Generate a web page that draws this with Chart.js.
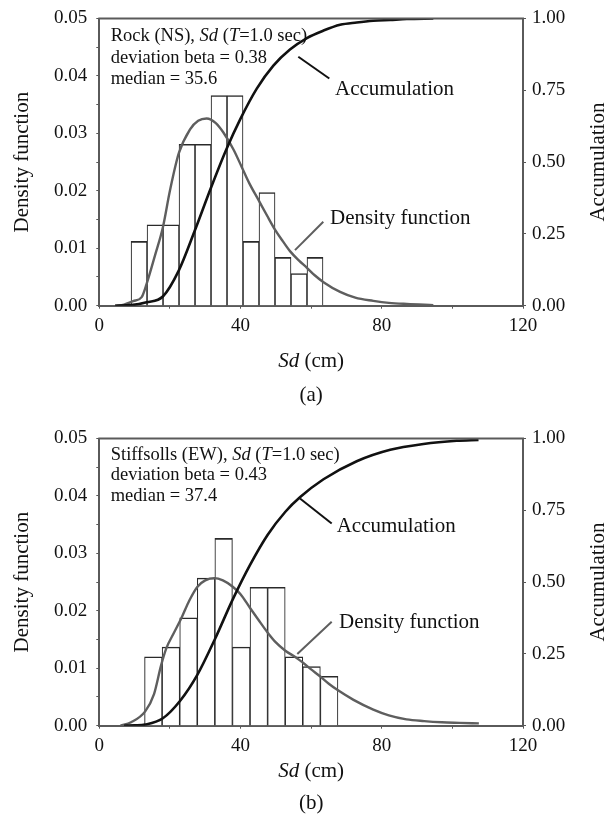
<!DOCTYPE html>
<html>
<head>
<meta charset="utf-8">
<script src="https://cdn.jsdelivr.net/npm/chart.js@4.4.1/dist/chart.umd.min.js"></script>
<style>
  html, body { margin: 0; padding: 0; background: #fff; }
  #wrap { position: relative; width: 614px; height: 821px; }
  canvas { position: absolute; left: 0; }
  #chartA { top: 0; }
  #chartB { top: 420px; }
</style>
</head>
<body>
<div id="wrap">
  <canvas id="chartA" width="614" height="420"></canvas>
  <canvas id="chartB" width="614" height="401"></canvas>
</div>
<script>
'use strict';

// axis ticks (shared by both panels)
var xTickValues = [0, 20, 40, 60, 80, 100, 120];
var xTickLabels = ['0', '', '40', '', '80', '', '120'];
var densityTickValues = [0, 0.005, 0.01, 0.015, 0.02, 0.025, 0.03, 0.035, 0.04, 0.045, 0.05];
var densityTickLabels = ['0.00', '', '0.01', '', '0.02', '', '0.03', '', '0.04', '', '0.05'];
var accumTickValues = [0, 0.25, 0.5, 0.75, 1];
var accumTickLabels = ['0.00', '0.25', '0.50', '0.75', '1.00'];

// (a) Rock (NS)
var rockBinCenters = [11.26, 15.79, 20.32, 24.85, 29.38, 33.91, 38.44, 42.97, 47.50, 52.03, 56.56, 61.09];
var rockBinDensity = [0.0112, 0.0141, 0.0141, 0.0281, 0.0281, 0.0366, 0.0366, 0.0112, 0.0197, 0.0084, 0.0056, 0.0084];
var rockDensityX = [4.5, 7.0, 9.6, 12.0, 13.4, 15.8, 18.0, 20.0, 22.5, 25.7, 28.0, 30.4, 33.0, 35.1, 38.0, 40.3, 42.5, 45.0, 47.5, 49.8, 52.0, 54.0, 56.5, 58.8, 61.0, 63.5, 68.2, 72.5, 77.6, 82.0, 87.1, 94.6];
var rockDensityY = [0, 0.0002, 0.0008, 0.0015, 0.0038, 0.0088, 0.0136, 0.0200, 0.0265, 0.0307, 0.0322, 0.0326, 0.0318, 0.0302, 0.0272, 0.0242, 0.0213, 0.0185, 0.0157, 0.0132, 0.0112, 0.0095, 0.0079, 0.0066, 0.0053, 0.0041, 0.0024, 0.0014, 0.00085, 0.0005, 0.0003, 0.0001];
var rockAccumX = [4.5, 9.0, 13.4, 18.0, 22.5, 27.0, 31.6, 36.0, 39.9, 44.6, 49.3, 54.0, 58.8, 63.5, 68.2, 72.9, 77.6, 82.4, 87.1, 94.6];
var rockAccumY = [0, 0.002, 0.012, 0.032, 0.122, 0.26, 0.41, 0.545, 0.649, 0.756, 0.836, 0.892, 0.932, 0.958, 0.978, 0.986, 0.992, 0.995, 0.998, 1.0];

// (b) Stiffsolls (EW)
var stiffBinCenters = [15.30, 20.28, 25.26, 30.24, 35.22, 40.20, 45.18, 50.16, 55.14, 60.12, 65.10];
var stiffBinDensity = [0.0120, 0.0137, 0.0188, 0.0257, 0.0326, 0.0137, 0.0241, 0.0241, 0.0120, 0.0103, 0.0086];
var stiffDensityX = [6, 9, 13, 15.5, 17.5, 19, 21, 23.3, 25.5, 27.8, 30, 32.6, 35, 37.8, 40, 42.7, 45, 47.7, 50, 52.6, 55.9, 57.6, 60, 62.5, 65, 67.5, 72, 77.6, 82, 87, 92, 97, 102, 107.5];
var stiffDensityY = [0, 0.0006, 0.0025, 0.0055, 0.0105, 0.0135, 0.016, 0.0188, 0.0218, 0.0242, 0.0253, 0.0257, 0.0253, 0.0242, 0.0229, 0.0205, 0.0185, 0.0162, 0.0145, 0.0131, 0.0118, 0.011, 0.0098, 0.0086, 0.0073, 0.0062, 0.0045, 0.0028, 0.0018, 0.0011, 0.0008, 0.0006, 0.0005, 0.0004];
var stiffAccumX = [7, 10, 13, 17.9, 22.9, 27.8, 32.8, 37.8, 42.7, 47.7, 52.7, 56.9, 63.5, 72.9, 82.4, 91.8, 101.2, 107.4];
var stiffAccumY = [0, 0.001, 0.004, 0.025, 0.087, 0.178, 0.303, 0.44, 0.56, 0.665, 0.745, 0.796, 0.858, 0.921, 0.961, 0.981, 0.992, 0.995];

// texts
var rockInset = [
    [{ t: 'Rock (NS), ' }, { t: 'Sd', i: 1 }, { t: ' (' }, { t: 'T', i: 1 }, { t: '=1.0 sec)' }],
    [{ t: 'deviation beta = 0.38' }],
    [{ t: 'median = 35.6' }]
];
var stiffInset = [
    [{ t: 'Stiffsolls (EW), ' }, { t: 'Sd', i: 1 }, { t: ' (' }, { t: 'T', i: 1 }, { t: '=1.0 sec)' }],
    [{ t: 'deviation beta = 0.43' }],
    [{ t: 'median = 37.4' }]
];
var xTitle = [{ t: 'Sd', i: 1 }, { t: ' (cm)' }];
var yTitle = 'Density function';
var y2Title = 'Accumulation';

var SERIF = '"Liberation Serif", "Times New Roman", serif';
var PLOT_TOP = 11.7;
var PLOT_BOTTOM = 305.7;
var PLOT_LEFT = 99.3;
var PLOT_RIGHT = 523;

function zip(xs, ys) {
    return xs.map(function(x, i) { return { x: x, y: ys[i] }; });
}

function richWidth(ctx, segs, size) {
    var w = 0;
    segs.forEach(function(s) {
        ctx.font = (s.i ? 'italic ' : '') + size + 'px ' + SERIF;
        w += ctx.measureText(s.t).width;
    });
    return w;
}

function drawRich(ctx, segs, x, y, size) {
    segs.forEach(function(s) {
        ctx.font = (s.i ? 'italic ' : '') + size + 'px ' + SERIF;
        ctx.fillText(s.t, x, y);
        x += ctx.measureText(s.t).width;
    });
}

var figureText = {
    id: 'figureText',
    afterDraw: function(chart, args, o) {
        var ctx = chart.ctx;
        var a = chart.chartArea;
        ctx.save();

        // top frame line
        ctx.strokeStyle = '#5a5a5a';
        ctx.lineWidth = 2;
        ctx.beginPath();
        ctx.moveTo(a.left - 1, a.top);
        ctx.lineTo(a.right + 1, a.top);
        ctx.stroke();

        // leader lines
        o.pointers.forEach(function(p) {
            ctx.strokeStyle = p.color;
            ctx.lineWidth = 2;
            ctx.beginPath();
            ctx.moveTo(a.left + p.x1, a.top + p.y1);
            ctx.lineTo(a.left + p.x2, a.top + p.y2);
            ctx.stroke();
        });

        ctx.fillStyle = '#111';
        ctx.textAlign = 'left';
        ctx.textBaseline = 'alphabetic';

        // inset
        o.inset.forEach(function(line, i) {
            drawRich(ctx, line, a.left + o.insetX, a.top + o.insetY[i], 18.5);
        });

        // curve labels
        o.labels.forEach(function(l) {
            ctx.font = '21px ' + SERIF;
            ctx.fillText(l.text, a.left + l.x, a.top + l.y);
        });

        // x title and caption
        var w = richWidth(ctx, xTitle, 21);
        drawRich(ctx, xTitle, (a.left + a.right) / 2 - w / 2, a.bottom + o.xTitleY, 21);
        ctx.font = '21px ' + SERIF;
        ctx.textAlign = 'center';
        ctx.fillText(o.caption, (a.left + a.right) / 2, a.bottom + o.captionY);

        // rotated axis titles
        var midY = (a.top + a.bottom) / 2;
        ctx.textBaseline = 'middle';
        [[yTitle, 22], [y2Title, 598]].forEach(function(t) {
            ctx.save();
            ctx.translate(t[1], midY);
            ctx.rotate(-Math.PI / 2);
            ctx.fillText(t[0], 0, 0);
            ctx.restore();
        });

        ctx.restore();
    }
};

function tickScale(values, labels) {
    return {
        afterBuildTicks: function(scale) {
            scale.ticks = values.map(function(v) { return { value: v }; });
        },
        callback: function(value, index) { return labels[index]; }
    };
}

function buildChart(canvasId, bars, dens, acc, notes) {
    var canvas = document.getElementById(canvasId);
    var H = canvas.height;
    var xt = tickScale(xTickValues, xTickLabels);
    var yt = tickScale(densityTickValues, densityTickLabels);
    var y2t = tickScale(accumTickValues, accumTickLabels);
    var tickFont = { family: SERIF, size: 19, lineHeight: 1 };
    var grid = { drawOnChartArea: false, tickLength: 3, color: '#555', lineWidth: 1, offset: false };
    var border = { display: true, color: '#5a5a5a', width: 2 };

    return new Chart(canvas.getContext('2d'), {
        type: 'bar',
        data: {
            datasets: [{
                type: 'line',
                label: 'Accumulation',
                data: zip(acc[0], acc[1]),
                yAxisID: 'y2',
                borderColor: '#111',
                borderWidth: 2.6,
                pointRadius: 0,
                cubicInterpolationMode: 'monotone',
                fill: false,
                order: 1
            }, {
                type: 'line',
                label: 'Density function',
                data: zip(dens[0], dens[1]),
                yAxisID: 'y',
                borderColor: '#5e5e5e',
                borderWidth: 2.4,
                pointRadius: 0,
                cubicInterpolationMode: 'monotone',
                fill: false,
                order: 2
            }, {
                type: 'bar',
                label: 'Histogram',
                data: zip(bars[0], bars[1]),
                yAxisID: 'y',
                backgroundColor: '#ffffff',
                borderColor: '#2a2a2a',
                borderWidth: { top: 1.6, left: 1.1, right: 1.1, bottom: 0 },
                borderSkipped: 'bottom',
                barPercentage: 1,
                categoryPercentage: 1,
                grouped: false,
                order: 3
            }]
        },
        options: {
            responsive: false,
            animation: false,
            devicePixelRatio: 1,
            layout: { padding: { top: PLOT_TOP, left: 0, right: 0, bottom: 0 } },
            plugins: {
                legend: { display: false },
                tooltip: { enabled: false },
                figureText: notes
            },
            scales: {
                x: {
                    type: 'linear',
                    position: 'bottom',
                    min: 0,
                    max: 120,
                    offset: false,
                    grid: grid,
                    border: border,
                    afterBuildTicks: xt.afterBuildTicks,
                    afterFit: function(s) { s.height = H - PLOT_BOTTOM; },
                    ticks: { callback: xt.callback, font: tickFont, color: '#111', padding: 8, maxRotation: 0, autoSkip: false }
                },
                y: {
                    type: 'linear',
                    position: 'left',
                    min: 0,
                    max: 0.05,
                    grid: grid,
                    border: border,
                    afterBuildTicks: yt.afterBuildTicks,
                    afterFit: function(s) { s.width = PLOT_LEFT; },
                    ticks: { callback: yt.callback, font: tickFont, color: '#111', padding: 9, autoSkip: false }
                },
                y2: {
                    type: 'linear',
                    position: 'right',
                    min: 0,
                    max: 1,
                    grid: grid,
                    border: border,
                    afterBuildTicks: y2t.afterBuildTicks,
                    afterFit: function(s) { s.width = 614 - PLOT_RIGHT; },
                    ticks: { callback: y2t.callback, font: tickFont, color: '#111', padding: 6, autoSkip: false }
                }
            }
        },
        plugins: [figureText]
    });
}

buildChart('chartA',
    [rockBinCenters, rockBinDensity],
    [rockDensityX, rockDensityY],
    [rockAccumX, rockAccumY],
    {
        inset: rockInset, insetX: 11.4, insetY: [22.6, 44.3, 65.6],
        labels: [{ text: 'Accumulation', x: 235.7, y: 76.6 }, { text: 'Density function', x: 230.7, y: 205 }],
        pointers: [
            { x1: 199, y1: 38.3, x2: 230, y2: 60, color: '#111' },
            { x1: 224, y1: 203.3, x2: 195.7, y2: 231.6, color: '#5e5e5e' }
        ],
        xTitleY: 61, caption: '(a)', captionY: 95
    });

buildChart('chartB',
    [stiffBinCenters, stiffBinDensity],
    [stiffDensityX, stiffDensityY],
    [stiffAccumX, stiffAccumY],
    {
        inset: stiffInset, insetX: 11.4, insetY: [21.6, 41.6, 62.3],
        labels: [{ text: 'Accumulation', x: 237.4, y: 93.3 }, { text: 'Density function', x: 239.7, y: 189.3 }],
        pointers: [
            { x1: 200.7, y1: 60, x2: 232.4, y2: 85, color: '#111' },
            { x1: 232.4, y1: 183.3, x2: 198, y2: 215.6, color: '#5e5e5e' }
        ],
        xTitleY: 51, caption: '(b)', captionY: 83
    });
</script>
</body>
</html>
